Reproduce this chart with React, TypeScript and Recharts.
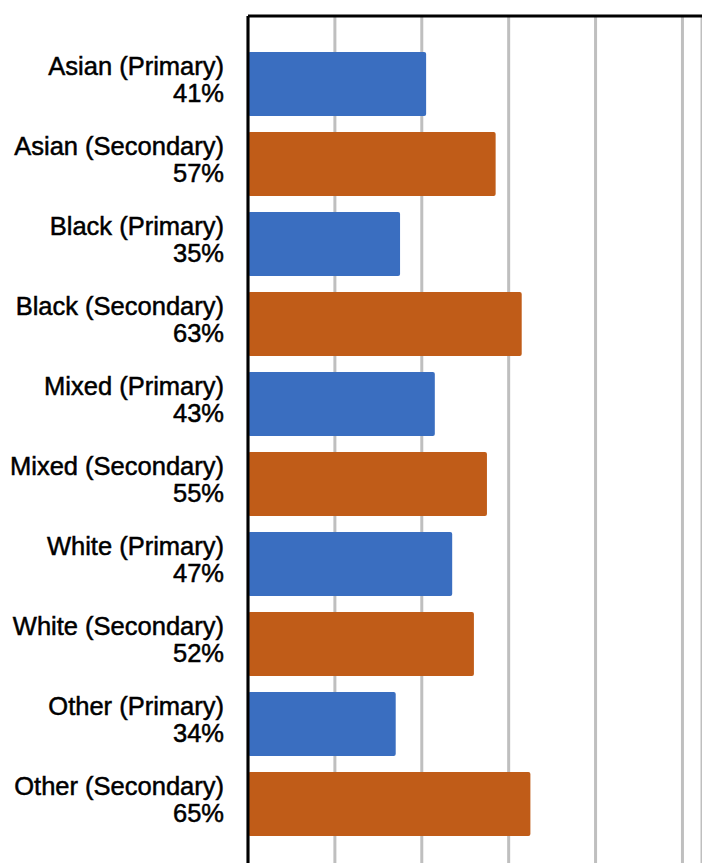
import { BarChart, Bar, XAxis, YAxis, CartesianGrid, Cell } from "recharts";

const groups = ["Asian", "Black", "Mixed", "White", "Other"];
const phases = ["Primary", "Secondary"];
const shares = [41, 57, 35, 63, 43, 55, 47, 52, 34, 65];
const xTicks = [0, 20, 40, 60, 80, 100];

const phaseColors: Record<string, string> = {
  Primary: "#3A6EC0",
  Secondary: "#C05C18",
};

const rows = groups.flatMap((group, gi) =>
  phases.map((phase, pi) => {
    const value = shares[gi * phases.length + pi];
    return {
      label: `${group} (${phase})`,
      phase,
      value,
      text: `${value}%`,
    };
  })
);

// value axis has no visible labels, only gridlines
const NoTick = () => <g />;

// two-line tick: category name, then the share underneath
const CategoryTick = (props: any) => {
  const { x, y, payload } = props;
  const row = rows.find((r) => r.label === payload.value);
  return (
    <text
      x={x}
      y={y}
      textAnchor="end"
      fill="#000"
      stroke="#000"
      strokeWidth={0.5}
      fontFamily="'Liberation Sans', Arial, sans-serif"
      fontSize={25.5}
    >
      <tspan x={x} dy={-9}>
        {payload.value}
      </tspan>
      <tspan x={x} dy={27}>
        {row ? row.text : ""}
      </tspan>
    </text>
  );
};

const App = () => {
  return (
    <div style={{ position: "absolute", left: 0, top: 0, background: "#fff" }}>
      <BarChart
        width={702}
        height={863}
        data={rows}
        layout="vertical"
        margin={{ top: 15, right: 0, bottom: 0, left: 0 }}
        barCategoryGap="10%"
      >
        <CartesianGrid horizontal={false} stroke="#BFBFBF" strokeWidth={3} />
        <XAxis
          type="number"
          orientation="top"
          domain={[0, 104.5]}
          ticks={xTicks}
          height={1}
          tick={NoTick}
          tickLine={false}
          axisLine={{ stroke: "#000", strokeWidth: 3 }}
        />
        <YAxis
          type="category"
          dataKey="label"
          width={248}
          interval={0}
          tickLine={false}
          tickSize={0}
          tickMargin={24}
          tick={<CategoryTick />}
          padding={{ top: 28, bottom: 19 }}
          axisLine={{ stroke: "#000", strokeWidth: 3 }}
        />
        <Bar dataKey="value" radius={2} isAnimationActive={false}>
          {rows.map((r) => (
            <Cell key={r.label} fill={phaseColors[r.phase]} />
          ))}
        </Bar>
      </BarChart>
    </div>
  );
};

export default App;
